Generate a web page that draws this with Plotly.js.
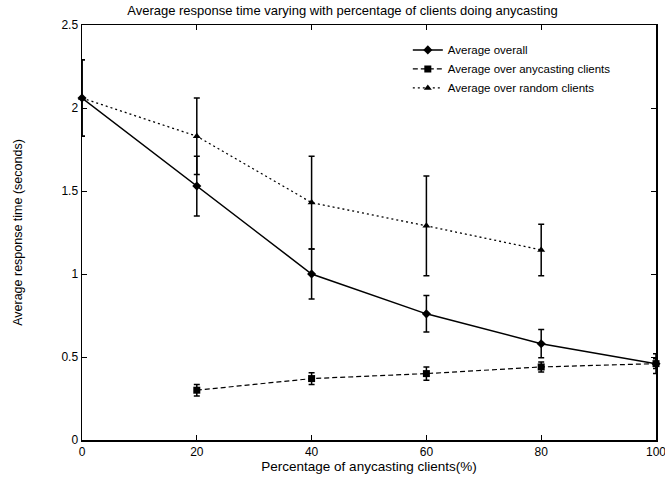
<!DOCTYPE html>
<html>
<head>
<meta charset="utf-8">
<script src="https://cdn.plot.ly/plotly-3.0.1.min.js"></script>
<style>html,body{margin:0;padding:0;background:#fff;}#chart{width:665px;height:480px;}</style>
</head>
<body>
<div id="chart"></div>
<script>
// Data
const overallX = [0, 20, 40, 60, 80, 100];
const overallY = [2.06, 1.53, 1.00, 0.76, 0.58, 0.46];
const overallErr = [0.23, 0.18, 0.15, 0.11, 0.085, 0.06];

const anycastX = [20, 40, 60, 80, 100];
const anycastY = [0.30, 0.37, 0.40, 0.44, 0.46];
const anycastErr = [0.035, 0.035, 0.04, 0.03, 0.03];

const randomX = [0, 20, 40, 60, 80];
const randomY = [2.06, 1.83, 1.43, 1.29, 1.145];
const randomErr = [0.23, 0.23, 0.28, 0.30, 0.155];

const xTicks = [0, 20, 40, 60, 80, 100];
const yTicks = [0, 0.5, 1, 1.5, 2, 2.5];

const fontFam = 'Liberation Sans, Arial, sans-serif';

function errBar(arr) {
  return {type: 'data', array: arr, visible: true, color: '#000', thickness: 1.5, width: 3};
}

const traces = [
  {
    x: overallX, y: overallY, name: 'Average overall', type: 'scatter', mode: 'lines+markers',
    line: {color: '#000', width: 1.5, dash: 'solid'},
    marker: {symbol: 'diamond', size: 7, color: '#000'},
    error_y: errBar(overallErr), cliponaxis: false
  },
  {
    x: anycastX, y: anycastY, name: 'Average over anycasting clients', type: 'scatter', mode: 'lines+markers',
    line: {color: '#000', width: 1.2, dash: '5px,3px'},
    marker: {symbol: 'square', size: 7, color: '#000'},
    error_y: errBar(anycastErr), cliponaxis: false
  },
  {
    x: randomX, y: randomY, name: 'Average over random clients', type: 'scatter', mode: 'lines+markers',
    line: {color: '#000', width: 1.3, dash: '2px,3px'},
    marker: {symbol: 'triangle-up', size: 7, color: '#000'},
    error_y: errBar(randomErr), cliponaxis: false
  }
];

const layout = {
  width: 665, height: 480,
  margin: {l: 82, r: 9, t: 25, b: 40},
  paper_bgcolor: '#fff', plot_bgcolor: '#fff',
  font: {family: fontFam, size: 12, color: '#000'},
  title: {text: 'Average response time varying with percentage of clients doing anycasting',
          font: {family: fontFam, size: 13, color: '#000'}, x: 0.515, xanchor: 'center', y: 0.988, yanchor: 'top'},
  showlegend: true,
  legend: {x: 0.93, y: 0.975, xanchor: 'right', yanchor: 'top', bgcolor: 'rgba(0,0,0,0)',
           font: {family: fontFam, size: 11.5, color: '#000'}, tracegroupgap: 0, itemwidth: 30},
  xaxis: {
    range: [0, 100], tickvals: xTicks, ticktext: xTicks.map(String), ticklabeloverflow: 'allow',
    ticks: 'inside', ticklen: 5, tickcolor: '#000', showline: true, linecolor: '#000', linewidth: 1.5,
    mirror: 'ticks', showgrid: false, zeroline: false,
    title: {text: 'Percentage of anycasting clients(%)', font: {family: fontFam, size: 13.5, color: '#000'}, standoff: 1},
    tickfont: {family: fontFam, size: 12, color: '#000'}
  },
  yaxis: {
    range: [0, 2.5], tickvals: yTicks, ticktext: yTicks.map(String),
    ticks: 'inside', ticklen: 5, tickcolor: '#000', showline: true, linecolor: '#000', linewidth: 1.5,
    mirror: 'ticks', showgrid: false, zeroline: false,
    title: {text: 'Average response time (seconds)', font: {family: fontFam, size: 12.5, color: '#000'}, standoff: 36},
    tickfont: {family: fontFam, size: 12, color: '#000'}
  }
};

Plotly.newPlot('chart', traces, layout, {displayModeBar: false, staticPlot: true});
</script>
</body>
</html>
